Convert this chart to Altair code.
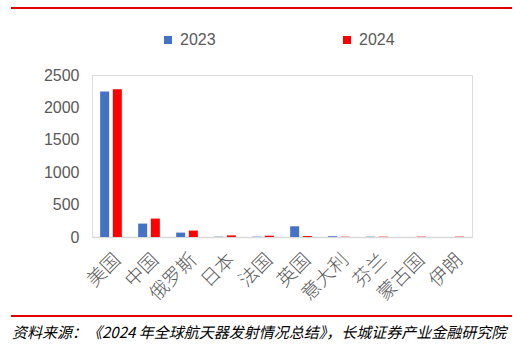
import altair as alt
import pandas as pd

countries = ["美国", "中国", "俄罗斯", "日本", "法国", "英国", "意大利", "芬兰", "蒙古国", "伊朗"]
v2023 = [2245, 207, 68, 5, 5, 165, 12, 5, 0, 0]
v2024 = [2280, 284, 99, 25, 20, 15, 5, 5, 5, 5]
years = ["2023", "2024"]
colors = ["#4472C4", "#FF0000"]
source = "资料来源：《2024 年全球航天器发射情况总结》，长城证券产业金融研究院"

rows = []
for c, a, b in zip(countries, v2023, v2024):
    rows.append({"country": c, "year": years[0], "value": a})
    rows.append({"country": c, "year": years[1], "value": b})
df = pd.DataFrame(rows)

W, H = 380, 162
CJK = "Noto Sans CJK SC"
NUM = "Liberation Sans"

bars = alt.Chart(df).mark_bar(size=9).encode(
    x=alt.X("country:N", sort=countries, title=None,
            scale=alt.Scale(paddingInner=0.0, paddingOuter=0.0),
            axis=alt.Axis(labelAngle=-45, labelFontSize=19, labelColor="#595959",
                          labelFont=CJK, labelFontWeight=300, ticks=False,
                          domainColor="#D9D9D9", domainWidth=1.5, labelPadding=13)),
    xOffset=alt.XOffset("year:N", sort=years, scale=alt.Scale(paddingInner=0.2, paddingOuter=0.6)),
    y=alt.Y("value:Q", title=None,
            scale=alt.Scale(domain=[0, 2500]),
            axis=alt.Axis(values=[0, 500, 1000, 1500, 2000, 2500], format="d", grid=False,
                          domain=False, ticks=False, labelFontSize=16, labelColor="#595959",
                          labelFont=NUM, labelPadding=13)),
    color=alt.Color("year:N", sort=years,
                    scale=alt.Scale(domain=years, range=colors),
                    legend=alt.Legend(title=None, orient="none", direction="horizontal",
                                      legendX=68, legendY=-43, symbolType="square",
                                      symbolSize=64, symbolStrokeWidth=0,
                                      labelFontSize=16, labelColor="#595959",
                                      labelFont=NUM, columnPadding=123, labelOffset=4)),
)

line_df = pd.DataFrame({"y": [-67, H + 79]})
lines = alt.Chart(line_df).mark_rule(color="#E00000", strokeWidth=2, clip=False).encode(
    x=alt.value(-81), x2=alt.value(420), y=alt.Y("y:Q", scale=None)
)

src_df = pd.DataFrame({"t": [source]})
src = alt.Chart(src_df).mark_text(
    align="left", baseline="middle", fontSize=15, fontStyle="italic",
    font=CJK, color="#000000", clip=False
).encode(x=alt.value(-80), y=alt.value(H + 96), text="t:N")

chart = alt.layer(bars, lines, src).properties(
    width=W, height=H,
    autosize=alt.AutoSizeParams(type="none"),
    padding={"left": 92, "top": 75, "right": 48, "bottom": 108},
).configure_view(stroke=None).configure(background="white")

chart.save("out.html", embed_options={"renderer": "svg", "actions": False})
